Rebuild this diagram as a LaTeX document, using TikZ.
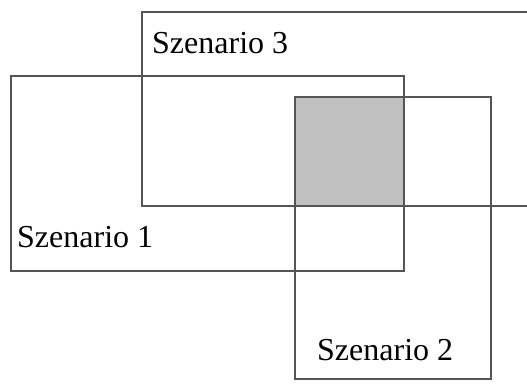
\documentclass[tikz,border=0pt]{standalone}
\usepackage{fontspec}
\setmainfont{Liberation Serif}
\definecolor{frame}{HTML}{555555}
\definecolor{overlap}{HTML}{C0C0C0}
\tikzset{
  scenbox/.style={draw=frame, line width=2.6pt},
  scenlabel/.style={anchor=base west, inner sep=0pt, font=\fontsize{32}{37}\selectfont},
}
\begin{document}
\begin{tikzpicture}[x=1pt, y=-1pt]
  \useasboundingbox (0,0) rectangle (527,383);
  \clip (0,0) rectangle (527,383);
  % common area of all three scenarios
  \fill[overlap] (295,97) rectangle (404,206);
  % scenario frames
  \draw[scenbox] (142,12) rectangle (545,206);
  \draw[scenbox] (11,76) rectangle (404,271);
  \draw[scenbox] (295,97) rectangle (491,379);
  % labels
  \node[scenlabel] (s3) at (152,53) {Szenario 3};
  \node[scenlabel] (s1) at (17,247) {Szenario 1};
  \node[scenlabel] (s2) at (317,360) {Szenario 2};
\end{tikzpicture}
\end{document}
